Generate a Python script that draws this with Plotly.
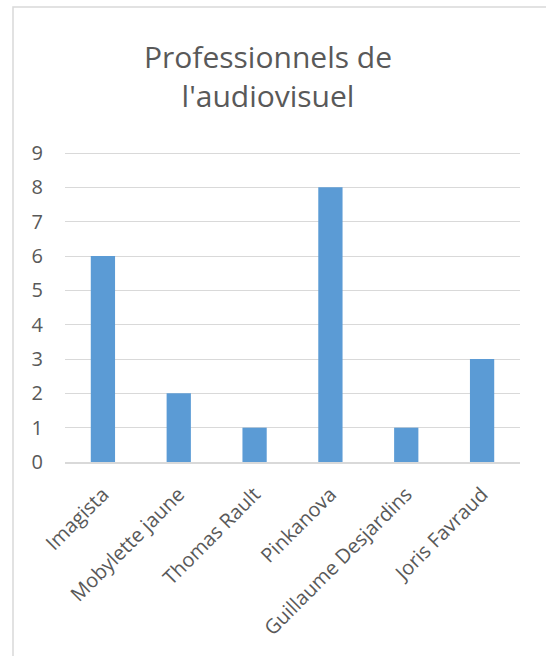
import plotly.graph_objects as go

categories = ["Imagista", "Mobylette jaune", "Thomas Rault", "Pinkanova", "Guillaume Desjardins", "Joris Favraud"]
values = [6, 2, 1, 8, 1, 3]
title_text = "Professionnels de<br>l'audiovisuel"
y_ticks = list(range(0, 10))

W, H = 546, 656
L, R, T, B = 65, 26, 152, 194
pw, ph = W - L - R, H - T - B

fig = go.Figure(go.Bar(x=categories, y=values, marker=dict(color="#5b9bd5", line=dict(width=0)), width=0.32))

fig.update_layout(
    width=W, height=H,
    margin=dict(l=L, r=R, t=T, b=B),
    paper_bgcolor="white", plot_bgcolor="white",
    font=dict(family="Open Sans", color="#595959"),
    title=dict(text=title_text, x=268 / W, xanchor="center", xref="container",
               y=1 - 68 / H, yanchor="top", yref="container",
               font=dict(size=30, color="#595959", family="Open Sans")),
    showlegend=False,
    bargap=0.68,
    shapes=[dict(type="rect", xref="paper", yref="paper",
                 x0=(13 - L) / pw, x1=(W + 20 - L) / pw,
                 y0=-(H + 20 - (H - B)) / ph, y1=((H - B) - 7) / ph,
                 line=dict(color="#d9d9d9", width=1.5), fillcolor="rgba(0,0,0,0)", layer="below")],
)
fig.update_yaxes(range=[0, 9.03], tickvals=y_ticks, showgrid=True, gridcolor="#d9d9d9", gridwidth=1,
                 zeroline=False, showline=False, ticks="", tickfont=dict(size=20, color="#595959"),
                 ticklabelstandoff=21)
fig.update_xaxes(showline=True, linecolor="#d9d9d9", linewidth=1.5, ticks="", tickangle=-45,
                 tickfont=dict(size=20, color="#595959"), ticklabelstandoff=11)

fig.write_html("out.html", config={"displayModeBar": False},
               post_script="document.body.style.margin='0';document.body.style.padding='0';")
